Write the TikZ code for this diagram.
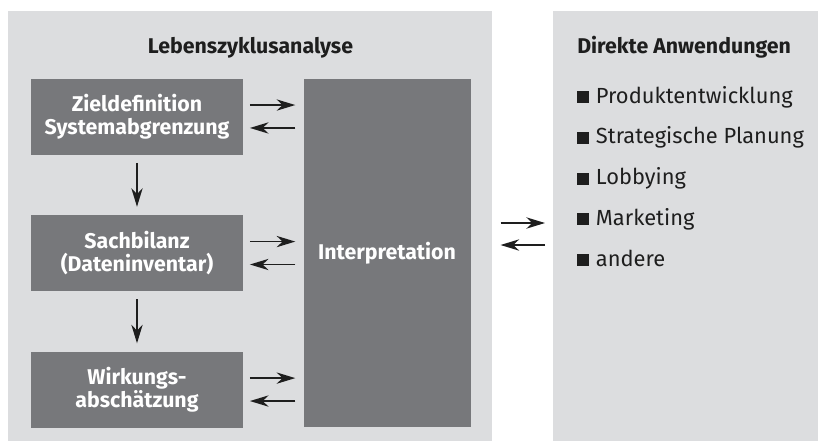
\documentclass[tikz,border=0pt]{standalone}
\usepackage{fontspec}
\setmainfont{Fira Sans}
\usetikzlibrary{arrows.meta,positioning}
\definecolor{panelgray}{HTML}{DCDDDF}
\definecolor{boxgray}{HTML}{77787B}
\definecolor{inkblack}{HTML}{1E1E1E}
\newcommand{\sqbullet}{\rule{9pt}{9pt}\hspace{5pt}}

\begin{document}
\begin{tikzpicture}[x=0.75pt, y=-0.75pt,
  node distance=45pt and 45pt,
  panel/.style={fill=panelgray, inner sep=0pt, anchor=north west, minimum height=322.5pt},
  phase/.style={fill=boxgray, text=white, font=\fontsize{16pt}{17.5pt}\selectfont\bfseries,
                minimum width=159pt, minimum height=57pt, inner sep=2pt, align=center},
  head/.style={font=\fontsize{16pt}{18pt}\selectfont\bfseries, text=inkblack, inner sep=0pt},
  item/.style={font=\fontsize{16.4pt}{18pt}\selectfont, text=inkblack, inner sep=0pt, anchor=base west},
  arr/.style={-{Stealth[length=14pt, width=8.5pt, inset=4.5pt]}, line width=1.1pt, inkblack}
]
\useasboundingbox (0,0) rectangle (818,443);

% Panels
\node[panel, minimum width=363pt] (lca) at (8,11) {};
\node[panel, minimum width=198.75pt] (apps) at (553,11) {};

% Phases
\node[head, anchor=base] (lcatitle) at (250.5,53) {Lebenszyklusanalyse};
\node[phase] (ziel) at (137,116.5) {Zieldefinition\\Systemabgrenzung};
\node[phase, below=of ziel] (sach) {Sachbilanz\\(Dateninventar)};
\node[phase, below=of sach] (wirk) {Wirkungs-\\abschätzung};
\node[phase, right=of sach, minimum width=125.25pt, minimum height=261pt] (interp) {Interpretation};

\draw[arr, shorten <=6pt, shorten >=6pt] (ziel) -- (sach);
\draw[arr, shorten <=6pt, shorten >=6pt] (sach) -- (wirk);

\draw[arr, shorten <=5pt, shorten >=6pt] ([yshift=8.6pt]ziel.east) -- ([yshift=8.6pt]ziel.east -| interp.west);
\draw[arr, shorten <=6pt, shorten >=5pt] ([yshift=-8.6pt]ziel.east -| interp.west) -- ([yshift=-8.6pt]ziel.east);
\draw[arr, shorten <=5pt, shorten >=6pt] ([yshift=8.6pt]sach.east) -- ([yshift=8.6pt]sach.east -| interp.west);
\draw[arr, shorten <=6pt, shorten >=5pt] ([yshift=-8.6pt]sach.east -| interp.west) -- ([yshift=-8.6pt]sach.east);
\draw[arr, shorten <=5pt, shorten >=6pt] ([yshift=8.6pt]wirk.east) -- ([yshift=8.6pt]wirk.east -| interp.west);
\draw[arr, shorten <=6pt, shorten >=5pt] ([yshift=-8.6pt]wirk.east -| interp.west) -- ([yshift=-8.6pt]wirk.east);

% Between panels
\coordinate (link) at (522,234);
\draw[arr, shorten <=6pt, shorten >=6pt] ([yshift=8.25pt]link -| lca.east) -- ([yshift=8.25pt]link -| apps.west);
\draw[arr, shorten <=6pt, shorten >=6pt] ([yshift=-8.25pt]link -| apps.west) -- ([yshift=-8.25pt]link -| lca.east);

% Applications
\node[head, anchor=base west] (appstitle) at (577,53) {Direkte Anwendungen};
\node[item] (prod) at (577,103) {\sqbullet Produktentwicklung};
\node[item] (strat) at (577,143.75) {\sqbullet Strategische Planung};
\node[item] (lobby) at (577,184.5) {\sqbullet Lobbying};
\node[item] (mark) at (577,225.25) {\sqbullet Marketing};
\node[item] (other) at (577,266) {\sqbullet andere};

\end{tikzpicture}
\end{document}
